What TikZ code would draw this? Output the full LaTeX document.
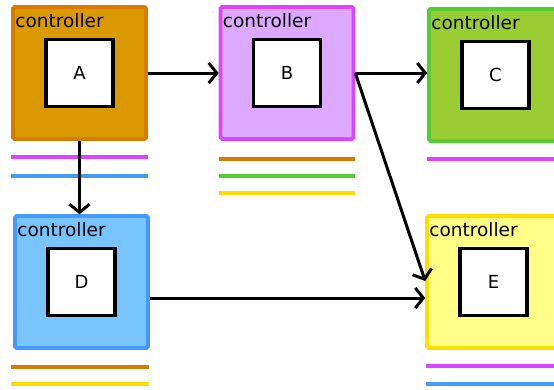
\documentclass[tikz,border=0pt]{standalone}
\usepackage{fontspec}
\setmainfont{DejaVu Sans}
\usetikzlibrary{arrows.meta,positioning}
\definecolor{ctrlorange}{RGB}{219,153,0}
\definecolor{ctrlorangeb}{RGB}{217,123,0}
\definecolor{ctrlpurple}{RGB}{221,168,255}
\definecolor{ctrlpurpleb}{RGB}{221,68,255}
\definecolor{ctrlgreen}{RGB}{154,205,50}
\definecolor{ctrlgreenb}{RGB}{85,204,51}
\definecolor{ctrlblue}{RGB}{119,196,255}
\definecolor{ctrlblueb}{RGB}{68,153,255}
\definecolor{ctrlyellow}{RGB}{255,255,136}
\definecolor{ctrlyellowb}{RGB}{255,221,0}
\tikzset{
    % outer controller box
    ctrlbox/.style={
        rectangle, draw=#1, line width=3.6pt, rounded corners=1.5pt,
        minimum width=133pt, minimum height=132pt, inner sep=0pt
    },
    % inner white square
    innerbox/.style={
        rectangle, draw=black, fill=white, line width=3.4pt,
        minimum width=67pt, minimum height=67pt, inner sep=0pt,
        font=\fontsize{18}{20}\selectfont
    },
    % the "controller" caption
    ctrllabel/.style={
        anchor=base west, inner sep=0pt, font=\fontsize{18.5}{20}\selectfont
    },
    % coloured bars under the boxes
    compline/.style={line width=4.5pt},
    % connectors
    flow/.style={line width=3pt,
        -{Straight Barb[length=8pt,width=20pt,line width=3pt]}}
}
\begin{document}
\begin{tikzpicture}[x=1pt,y=-1pt]
  \useasboundingbox (0,0) rectangle (554,389);
  \clip (0,0) rectangle (554,389);

  % --- controller boxes ---
  \node[ctrlbox=ctrlorangeb, fill=ctrlorange] (ctrlA) at (79.5,73) {};
  \node[ctrlbox=ctrlpurpleb, fill=ctrlpurple] (ctrlB) at (287,73) {};
  \node[ctrlbox=ctrlgreenb, fill=ctrlgreen] (ctrlC) at (495.5,75) {};
  \node[ctrlbox=ctrlblueb, fill=ctrlblue] (ctrlD) at (81.5,282) {};
  \node[ctrlbox=ctrlyellowb, fill=ctrlyellow] (ctrlE) at (493.5,282) {};

  \foreach \n in {A,B,C,D,E}{
    \node[ctrllabel] (lab\n) at ([xshift=4pt,yshift=-22pt]ctrl\n.north west) {controller};
    \node[innerbox] (\n) at (ctrl\n) {\n};
  }

  % --- colour bars ---
  \draw[compline,ctrlpurpleb] (11,157) -- (148,157);
  \draw[compline,ctrlblueb] (11,176) -- (148,176);
  \draw[compline,ctrlorangeb] (219,159) -- (355,159);
  \draw[compline,ctrlgreenb] (219,176) -- (355,176);
  \draw[compline,ctrlyellowb] (219,193) -- (355,193);
  \draw[compline,ctrlpurpleb] (427,159) -- (560,159);
  \draw[compline,ctrlorangeb] (11,367) -- (149,367);
  \draw[compline,ctrlyellowb] (11,384) -- (149,384);
  \draw[compline,ctrlpurpleb] (426,366) -- (560,366);
  \draw[compline,ctrlblueb] (426,384) -- (560,384);

  % --- connectors ---
  \draw[flow] (ctrlA.east) -- (ctrlB.west);
  \draw[flow] (ctrlB.east) -- (ctrlC.west |- ctrlB.east);
  \draw[flow] (ctrlB.east) -- ([yshift=1pt]ctrlE.west);
  \draw[flow] (ctrlA.south) -- (ctrlA.south |- ctrlD.north);
  \draw[flow] ([yshift=-16pt]ctrlD.east) -- ([yshift=-16pt]ctrlE.west);
\end{tikzpicture}
\end{document}
